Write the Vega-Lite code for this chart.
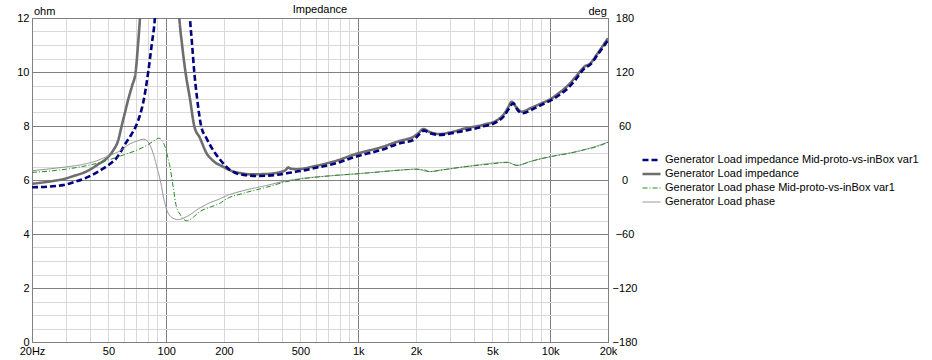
{
  "$schema": "https://vega.github.io/schema/vega-lite/v6.json",
  "width": 576,
  "height": 324,
  "autosize": {"type": "none"},
  "padding": {"left": 32, "top": 18, "right": 324, "bottom": 18},
  "background": "#ffffff",
  "config": {
    "font": "Liberation Sans",
    "view": {"stroke": "#808080", "strokeWidth": 1},
    "axis": {"labelFontSize": 11, "labelColor": "#000000", "titleFontSize": 11, "titleFontWeight": "normal", "titleColor": "#000000", "domainColor": "#808080", "ticks": false, "labelFlush": false, "labelOverlap": false}
  },
  "title": {"text": "Impedance", "fontSize": 11, "fontWeight": "normal", "color": "#000000", "anchor": "middle", "frame": "group", "offset": 0, "dy": 9.5},
  "datasets": {
    "imp": [
      {"s": "Generator Load impedance", "f": 20, "ohm": 5.86},
      {"s": "Generator Load impedance", "f": 25, "ohm": 5.95},
      {"s": "Generator Load impedance", "f": 29, "ohm": 6.03},
      {"s": "Generator Load impedance", "f": 33, "ohm": 6.15},
      {"s": "Generator Load impedance", "f": 38.5, "ohm": 6.32},
      {"s": "Generator Load impedance", "f": 44, "ohm": 6.57},
      {"s": "Generator Load impedance", "f": 49, "ohm": 6.8},
      {"s": "Generator Load impedance", "f": 53, "ohm": 7.1},
      {"s": "Generator Load impedance", "f": 56.3, "ohm": 7.48},
      {"s": "Generator Load impedance", "f": 58.6, "ohm": 8.0},
      {"s": "Generator Load impedance", "f": 61, "ohm": 8.5},
      {"s": "Generator Load impedance", "f": 63.5, "ohm": 9.0},
      {"s": "Generator Load impedance", "f": 66.5, "ohm": 9.5},
      {"s": "Generator Load impedance", "f": 69.3, "ohm": 10.0},
      {"s": "Generator Load impedance", "f": 71.3, "ohm": 11.0},
      {"s": "Generator Load impedance", "f": 73, "ohm": 12.0},
      {"s": "Generator Load impedance", "f": 93, "ohm": 40},
      {"s": "Generator Load impedance", "f": 117, "ohm": 12.0},
      {"s": "Generator Load impedance", "f": 121, "ohm": 11.0},
      {"s": "Generator Load impedance", "f": 126, "ohm": 10.0},
      {"s": "Generator Load impedance", "f": 133, "ohm": 9.0},
      {"s": "Generator Load impedance", "f": 140, "ohm": 8.0},
      {"s": "Generator Load impedance", "f": 150, "ohm": 7.55},
      {"s": "Generator Load impedance", "f": 162, "ohm": 7.0},
      {"s": "Generator Load impedance", "f": 175, "ohm": 6.72},
      {"s": "Generator Load impedance", "f": 198, "ohm": 6.49},
      {"s": "Generator Load impedance", "f": 224, "ohm": 6.31},
      {"s": "Generator Load impedance", "f": 247, "ohm": 6.25},
      {"s": "Generator Load impedance", "f": 270, "ohm": 6.21},
      {"s": "Generator Load impedance", "f": 328, "ohm": 6.22},
      {"s": "Generator Load impedance", "f": 400, "ohm": 6.31},
      {"s": "Generator Load impedance", "f": 420, "ohm": 6.38},
      {"s": "Generator Load impedance", "f": 432, "ohm": 6.47},
      {"s": "Generator Load impedance", "f": 445, "ohm": 6.42},
      {"s": "Generator Load impedance", "f": 478, "ohm": 6.40},
      {"s": "Generator Load impedance", "f": 600, "ohm": 6.52},
      {"s": "Generator Load impedance", "f": 741, "ohm": 6.68},
      {"s": "Generator Load impedance", "f": 1000, "ohm": 6.99},
      {"s": "Generator Load impedance", "f": 1300, "ohm": 7.2},
      {"s": "Generator Load impedance", "f": 1651, "ohm": 7.45},
      {"s": "Generator Load impedance", "f": 1937, "ohm": 7.6},
      {"s": "Generator Load impedance", "f": 2050, "ohm": 7.72},
      {"s": "Generator Load impedance", "f": 2183, "ohm": 7.89},
      {"s": "Generator Load impedance", "f": 2350, "ohm": 7.78},
      {"s": "Generator Load impedance", "f": 2660, "ohm": 7.70},
      {"s": "Generator Load impedance", "f": 3000, "ohm": 7.76},
      {"s": "Generator Load impedance", "f": 3610, "ohm": 7.91},
      {"s": "Generator Load impedance", "f": 4500, "ohm": 8.05},
      {"s": "Generator Load impedance", "f": 5300, "ohm": 8.22},
      {"s": "Generator Load impedance", "f": 5800, "ohm": 8.48},
      {"s": "Generator Load impedance", "f": 6050, "ohm": 8.7},
      {"s": "Generator Load impedance", "f": 6300, "ohm": 8.90},
      {"s": "Generator Load impedance", "f": 6650, "ohm": 8.7},
      {"s": "Generator Load impedance", "f": 7090, "ohm": 8.53},
      {"s": "Generator Load impedance", "f": 8000, "ohm": 8.68},
      {"s": "Generator Load impedance", "f": 9000, "ohm": 8.84},
      {"s": "Generator Load impedance", "f": 10000, "ohm": 8.99},
      {"s": "Generator Load impedance", "f": 11000, "ohm": 9.2},
      {"s": "Generator Load impedance", "f": 12200, "ohm": 9.46},
      {"s": "Generator Load impedance", "f": 13500, "ohm": 9.8},
      {"s": "Generator Load impedance", "f": 15100, "ohm": 10.20},
      {"s": "Generator Load impedance", "f": 16200, "ohm": 10.32},
      {"s": "Generator Load impedance", "f": 17500, "ohm": 10.65},
      {"s": "Generator Load impedance", "f": 20000, "ohm": 11.25},
      {"s": "Generator Load impedance Mid-proto-vs-inBox var1", "f": 20, "ohm": 5.73},
      {"s": "Generator Load impedance Mid-proto-vs-inBox var1", "f": 25, "ohm": 5.76},
      {"s": "Generator Load impedance Mid-proto-vs-inBox var1", "f": 29, "ohm": 5.81},
      {"s": "Generator Load impedance Mid-proto-vs-inBox var1", "f": 33, "ohm": 5.92},
      {"s": "Generator Load impedance Mid-proto-vs-inBox var1", "f": 37.7, "ohm": 6.06},
      {"s": "Generator Load impedance Mid-proto-vs-inBox var1", "f": 42, "ohm": 6.22},
      {"s": "Generator Load impedance Mid-proto-vs-inBox var1", "f": 47.1, "ohm": 6.43},
      {"s": "Generator Load impedance Mid-proto-vs-inBox var1", "f": 51, "ohm": 6.6},
      {"s": "Generator Load impedance Mid-proto-vs-inBox var1", "f": 54, "ohm": 6.74},
      {"s": "Generator Load impedance Mid-proto-vs-inBox var1", "f": 57.5, "ohm": 7.0},
      {"s": "Generator Load impedance Mid-proto-vs-inBox var1", "f": 60.7, "ohm": 7.3},
      {"s": "Generator Load impedance Mid-proto-vs-inBox var1", "f": 65, "ohm": 7.62},
      {"s": "Generator Load impedance Mid-proto-vs-inBox var1", "f": 69.6, "ohm": 8.0},
      {"s": "Generator Load impedance Mid-proto-vs-inBox var1", "f": 73, "ohm": 8.4},
      {"s": "Generator Load impedance Mid-proto-vs-inBox var1", "f": 75.8, "ohm": 8.85},
      {"s": "Generator Load impedance Mid-proto-vs-inBox var1", "f": 80.6, "ohm": 10.0},
      {"s": "Generator Load impedance Mid-proto-vs-inBox var1", "f": 84, "ohm": 11.0},
      {"s": "Generator Load impedance Mid-proto-vs-inBox var1", "f": 87.3, "ohm": 12.0},
      {"s": "Generator Load impedance Mid-proto-vs-inBox var1", "f": 108, "ohm": 40},
      {"s": "Generator Load impedance Mid-proto-vs-inBox var1", "f": 133, "ohm": 12.0},
      {"s": "Generator Load impedance Mid-proto-vs-inBox var1", "f": 136.5, "ohm": 11.0},
      {"s": "Generator Load impedance Mid-proto-vs-inBox var1", "f": 140, "ohm": 10.0},
      {"s": "Generator Load impedance Mid-proto-vs-inBox var1", "f": 145, "ohm": 9.0},
      {"s": "Generator Load impedance Mid-proto-vs-inBox var1", "f": 152, "ohm": 8.0},
      {"s": "Generator Load impedance Mid-proto-vs-inBox var1", "f": 162, "ohm": 7.55},
      {"s": "Generator Load impedance Mid-proto-vs-inBox var1", "f": 180, "ohm": 6.99},
      {"s": "Generator Load impedance Mid-proto-vs-inBox var1", "f": 191, "ohm": 6.75},
      {"s": "Generator Load impedance Mid-proto-vs-inBox var1", "f": 215, "ohm": 6.37},
      {"s": "Generator Load impedance Mid-proto-vs-inBox var1", "f": 230, "ohm": 6.26},
      {"s": "Generator Load impedance Mid-proto-vs-inBox var1", "f": 260, "ohm": 6.18},
      {"s": "Generator Load impedance Mid-proto-vs-inBox var1", "f": 296, "ohm": 6.15},
      {"s": "Generator Load impedance Mid-proto-vs-inBox var1", "f": 376, "ohm": 6.19},
      {"s": "Generator Load impedance Mid-proto-vs-inBox var1", "f": 450, "ohm": 6.28},
      {"s": "Generator Load impedance Mid-proto-vs-inBox var1", "f": 498, "ohm": 6.33},
      {"s": "Generator Load impedance Mid-proto-vs-inBox var1", "f": 600, "ohm": 6.45},
      {"s": "Generator Load impedance Mid-proto-vs-inBox var1", "f": 750, "ohm": 6.6},
      {"s": "Generator Load impedance Mid-proto-vs-inBox var1", "f": 1000, "ohm": 6.89},
      {"s": "Generator Load impedance Mid-proto-vs-inBox var1", "f": 1300, "ohm": 7.1},
      {"s": "Generator Load impedance Mid-proto-vs-inBox var1", "f": 1651, "ohm": 7.36},
      {"s": "Generator Load impedance Mid-proto-vs-inBox var1", "f": 1937, "ohm": 7.48},
      {"s": "Generator Load impedance Mid-proto-vs-inBox var1", "f": 2050, "ohm": 7.65},
      {"s": "Generator Load impedance Mid-proto-vs-inBox var1", "f": 2200, "ohm": 7.83},
      {"s": "Generator Load impedance Mid-proto-vs-inBox var1", "f": 2400, "ohm": 7.72},
      {"s": "Generator Load impedance Mid-proto-vs-inBox var1", "f": 2660, "ohm": 7.67},
      {"s": "Generator Load impedance Mid-proto-vs-inBox var1", "f": 3000, "ohm": 7.72},
      {"s": "Generator Load impedance Mid-proto-vs-inBox var1", "f": 3610, "ohm": 7.83},
      {"s": "Generator Load impedance Mid-proto-vs-inBox var1", "f": 4400, "ohm": 7.97},
      {"s": "Generator Load impedance Mid-proto-vs-inBox var1", "f": 5300, "ohm": 8.16},
      {"s": "Generator Load impedance Mid-proto-vs-inBox var1", "f": 5800, "ohm": 8.4},
      {"s": "Generator Load impedance Mid-proto-vs-inBox var1", "f": 6100, "ohm": 8.65},
      {"s": "Generator Load impedance Mid-proto-vs-inBox var1", "f": 6425, "ohm": 8.84},
      {"s": "Generator Load impedance Mid-proto-vs-inBox var1", "f": 6750, "ohm": 8.6},
      {"s": "Generator Load impedance Mid-proto-vs-inBox var1", "f": 7190, "ohm": 8.47},
      {"s": "Generator Load impedance Mid-proto-vs-inBox var1", "f": 8000, "ohm": 8.6},
      {"s": "Generator Load impedance Mid-proto-vs-inBox var1", "f": 9000, "ohm": 8.78},
      {"s": "Generator Load impedance Mid-proto-vs-inBox var1", "f": 10000, "ohm": 8.94},
      {"s": "Generator Load impedance Mid-proto-vs-inBox var1", "f": 11000, "ohm": 9.12},
      {"s": "Generator Load impedance Mid-proto-vs-inBox var1", "f": 12200, "ohm": 9.36},
      {"s": "Generator Load impedance Mid-proto-vs-inBox var1", "f": 13500, "ohm": 9.7},
      {"s": "Generator Load impedance Mid-proto-vs-inBox var1", "f": 15100, "ohm": 10.14},
      {"s": "Generator Load impedance Mid-proto-vs-inBox var1", "f": 16200, "ohm": 10.28},
      {"s": "Generator Load impedance Mid-proto-vs-inBox var1", "f": 17500, "ohm": 10.6},
      {"s": "Generator Load impedance Mid-proto-vs-inBox var1", "f": 20000, "ohm": 11.18}
    ],
    "ph": [
      {"s": "Generator Load phase", "f": 20, "deg": 10.3},
      {"s": "Generator Load phase", "f": 25, "deg": 12.5},
      {"s": "Generator Load phase", "f": 30, "deg": 14.5},
      {"s": "Generator Load phase", "f": 35.5, "deg": 16.7},
      {"s": "Generator Load phase", "f": 43.5, "deg": 21.4},
      {"s": "Generator Load phase", "f": 49, "deg": 25.9},
      {"s": "Generator Load phase", "f": 57, "deg": 32},
      {"s": "Generator Load phase", "f": 64.6, "deg": 40},
      {"s": "Generator Load phase", "f": 71, "deg": 43.5},
      {"s": "Generator Load phase", "f": 76, "deg": 45.3},
      {"s": "Generator Load phase", "f": 80, "deg": 43},
      {"s": "Generator Load phase", "f": 83, "deg": 37},
      {"s": "Generator Load phase", "f": 86, "deg": 28},
      {"s": "Generator Load phase", "f": 89.5, "deg": 14},
      {"s": "Generator Load phase", "f": 93.5, "deg": -2},
      {"s": "Generator Load phase", "f": 97, "deg": -20},
      {"s": "Generator Load phase", "f": 100.6, "deg": -33},
      {"s": "Generator Load phase", "f": 106.7, "deg": -41.4},
      {"s": "Generator Load phase", "f": 115, "deg": -44},
      {"s": "Generator Load phase", "f": 127.5, "deg": -40.8},
      {"s": "Generator Load phase", "f": 150, "deg": -31},
      {"s": "Generator Load phase", "f": 170, "deg": -25},
      {"s": "Generator Load phase", "f": 190, "deg": -21},
      {"s": "Generator Load phase", "f": 206, "deg": -17.5},
      {"s": "Generator Load phase", "f": 250, "deg": -12},
      {"s": "Generator Load phase", "f": 334, "deg": -6},
      {"s": "Generator Load phase", "f": 420, "deg": -1},
      {"s": "Generator Load phase", "f": 500, "deg": 1.5},
      {"s": "Generator Load phase", "f": 700, "deg": 4.5},
      {"s": "Generator Load phase", "f": 1000, "deg": 7},
      {"s": "Generator Load phase", "f": 1651, "deg": 11},
      {"s": "Generator Load phase", "f": 2000, "deg": 12},
      {"s": "Generator Load phase", "f": 2350, "deg": 9.3},
      {"s": "Generator Load phase", "f": 2700, "deg": 11},
      {"s": "Generator Load phase", "f": 3610, "deg": 14.8},
      {"s": "Generator Load phase", "f": 5980, "deg": 19.6},
      {"s": "Generator Load phase", "f": 6710, "deg": 16.3},
      {"s": "Generator Load phase", "f": 8000, "deg": 21},
      {"s": "Generator Load phase", "f": 10000, "deg": 25.9},
      {"s": "Generator Load phase", "f": 15300, "deg": 34},
      {"s": "Generator Load phase", "f": 20000, "deg": 42},
      {"s": "Generator Load phase Mid-proto-vs-inBox var1", "f": 20, "deg": 8.5},
      {"s": "Generator Load phase Mid-proto-vs-inBox var1", "f": 25, "deg": 10},
      {"s": "Generator Load phase Mid-proto-vs-inBox var1", "f": 30, "deg": 12},
      {"s": "Generator Load phase Mid-proto-vs-inBox var1", "f": 43.5, "deg": 18.5},
      {"s": "Generator Load phase Mid-proto-vs-inBox var1", "f": 59.9, "deg": 27.8},
      {"s": "Generator Load phase Mid-proto-vs-inBox var1", "f": 70, "deg": 33},
      {"s": "Generator Load phase Mid-proto-vs-inBox var1", "f": 80, "deg": 39},
      {"s": "Generator Load phase Mid-proto-vs-inBox var1", "f": 87, "deg": 44},
      {"s": "Generator Load phase Mid-proto-vs-inBox var1", "f": 91.5, "deg": 46.5},
      {"s": "Generator Load phase Mid-proto-vs-inBox var1", "f": 95, "deg": 44},
      {"s": "Generator Load phase Mid-proto-vs-inBox var1", "f": 98.6, "deg": 37},
      {"s": "Generator Load phase Mid-proto-vs-inBox var1", "f": 102, "deg": 25},
      {"s": "Generator Load phase Mid-proto-vs-inBox var1", "f": 104.6, "deg": 14.8},
      {"s": "Generator Load phase Mid-proto-vs-inBox var1", "f": 108.7, "deg": -7.5},
      {"s": "Generator Load phase Mid-proto-vs-inBox var1", "f": 113, "deg": -29.7},
      {"s": "Generator Load phase Mid-proto-vs-inBox var1", "f": 118, "deg": -38},
      {"s": "Generator Load phase Mid-proto-vs-inBox var1", "f": 122, "deg": -42.6},
      {"s": "Generator Load phase Mid-proto-vs-inBox var1", "f": 127.5, "deg": -45.3},
      {"s": "Generator Load phase Mid-proto-vs-inBox var1", "f": 135, "deg": -43},
      {"s": "Generator Load phase Mid-proto-vs-inBox var1", "f": 150, "deg": -35},
      {"s": "Generator Load phase Mid-proto-vs-inBox var1", "f": 170, "deg": -30},
      {"s": "Generator Load phase Mid-proto-vs-inBox var1", "f": 190, "deg": -26},
      {"s": "Generator Load phase Mid-proto-vs-inBox var1", "f": 206, "deg": -21},
      {"s": "Generator Load phase Mid-proto-vs-inBox var1", "f": 250, "deg": -15},
      {"s": "Generator Load phase Mid-proto-vs-inBox var1", "f": 334, "deg": -8},
      {"s": "Generator Load phase Mid-proto-vs-inBox var1", "f": 420, "deg": -2},
      {"s": "Generator Load phase Mid-proto-vs-inBox var1", "f": 500, "deg": 1},
      {"s": "Generator Load phase Mid-proto-vs-inBox var1", "f": 700, "deg": 4.5},
      {"s": "Generator Load phase Mid-proto-vs-inBox var1", "f": 1000, "deg": 7},
      {"s": "Generator Load phase Mid-proto-vs-inBox var1", "f": 1300, "deg": 9},
      {"s": "Generator Load phase Mid-proto-vs-inBox var1", "f": 1651, "deg": 11},
      {"s": "Generator Load phase Mid-proto-vs-inBox var1", "f": 2000, "deg": 12},
      {"s": "Generator Load phase Mid-proto-vs-inBox var1", "f": 2200, "deg": 11.5},
      {"s": "Generator Load phase Mid-proto-vs-inBox var1", "f": 2350, "deg": 9.3},
      {"s": "Generator Load phase Mid-proto-vs-inBox var1", "f": 2700, "deg": 11},
      {"s": "Generator Load phase Mid-proto-vs-inBox var1", "f": 3610, "deg": 14.8},
      {"s": "Generator Load phase Mid-proto-vs-inBox var1", "f": 4800, "deg": 17.5},
      {"s": "Generator Load phase Mid-proto-vs-inBox var1", "f": 5980, "deg": 19.6},
      {"s": "Generator Load phase Mid-proto-vs-inBox var1", "f": 6710, "deg": 16.3},
      {"s": "Generator Load phase Mid-proto-vs-inBox var1", "f": 8000, "deg": 21},
      {"s": "Generator Load phase Mid-proto-vs-inBox var1", "f": 10000, "deg": 25.9},
      {"s": "Generator Load phase Mid-proto-vs-inBox var1", "f": 12500, "deg": 29.5},
      {"s": "Generator Load phase Mid-proto-vs-inBox var1", "f": 15300, "deg": 34},
      {"s": "Generator Load phase Mid-proto-vs-inBox var1", "f": 17500, "deg": 37},
      {"s": "Generator Load phase Mid-proto-vs-inBox var1", "f": 20000, "deg": 42}
    ]
  },
  "encoding": {
    "x": {
      "field": "f", "type": "quantitative",
      "scale": {"type": "log", "domain": [20, 20000], "nice": false},
      "axis": {
        "title": null,
        "values": [20, 30, 40, 50, 60, 70, 80, 90, 100, 200, 300, 400, 500, 600, 700, 800, 900, 1000, 2000, 3000, 4000, 5000, 6000, 7000, 8000, 9000, 10000, 20000],
        "labelExpr": "indexof([20,50,100,200,500,1000,2000,5000,10000,20000], datum.value) < 0 ? '' : (datum.value == 20 ? '20Hz' : (datum.value >= 1000 ? (datum.value / 1000) + 'k' : '' + datum.value))",
        "labelPadding": 3,
        "gridColor": {"condition": {"test": "datum.value == 20 || datum.value == 100 || datum.value == 1000 || datum.value == 10000 || datum.value == 20000", "value": "#808080"}, "value": "#d9d9d9"}
      }
    },
    "color": {
      "field": "s", "type": "nominal",
      "scale": {
        "domain": ["Generator Load impedance Mid-proto-vs-inBox var1", "Generator Load impedance", "Generator Load phase Mid-proto-vs-inBox var1", "Generator Load phase"],
        "range": ["#000080", "#6e6e6e", "#228b22", "#8c8c8c"]
      },
      "legend": {"title": null, "orient": "none", "legendX": 609, "legendY": 135, "symbolType": "stroke", "symbolSize": 324, "labelFontSize": 11, "labelColor": "#000000", "labelOffset": 3, "rowPadding": 0, "clipHeight": 14, "padding": 0, "labelLimit": 400}
    },
    "strokeDash": {
      "field": "s", "type": "nominal",
      "scale": {
        "domain": ["Generator Load impedance Mid-proto-vs-inBox var1", "Generator Load impedance", "Generator Load phase Mid-proto-vs-inBox var1", "Generator Load phase"],
        "range": [[6, 3], [1, 0], [5, 2, 1, 2], [1, 0]]
      },
      "legend": {"title": null, "orient": "none", "legendX": 609, "legendY": 135, "symbolType": "stroke", "symbolSize": 324, "labelFontSize": 11, "labelColor": "#000000", "labelOffset": 3, "rowPadding": 0, "clipHeight": 14, "padding": 0, "labelLimit": 400}
    },
    "strokeWidth": {
      "field": "s", "type": "nominal",
      "scale": {
        "type": "ordinal",
        "domain": ["Generator Load impedance Mid-proto-vs-inBox var1", "Generator Load impedance", "Generator Load phase Mid-proto-vs-inBox var1", "Generator Load phase"],
        "range": [2.6, 2.6, 1, 1]
      },
      "legend": {"title": null, "orient": "none", "legendX": 609, "legendY": 135, "symbolType": "stroke", "symbolSize": 324, "labelFontSize": 11, "labelColor": "#000000", "labelOffset": 3, "rowPadding": 0, "clipHeight": 14, "padding": 0, "labelLimit": 400}
    }
  },
  "layer": [
    {
      "data": {"name": "imp"},
      "encoding": {
        "y": {
          "field": "ohm", "type": "quantitative",
          "scale": {"domain": [0, 12], "nice": false, "zero": false},
          "axis": {
            "orient": "left",
            "values": [0, 0.5, 1, 1.5, 2, 2.5, 3, 3.5, 4, 4.5, 5, 5.5, 6, 6.5, 7, 7.5, 8, 8.5, 9, 9.5, 10, 10.5, 11, 11.5, 12],
            "labelExpr": "datum.value % 2 == 0 ? format(datum.value, 'd') : ''",
            "labelPadding": 3,
            "gridColor": {"condition": {"test": "datum.value % 2 == 0", "value": "#808080"}, "value": "#d9d9d9"},
            "title": "ohm", "titleAngle": 0, "titleAlign": "left", "titleBaseline": "alphabetic", "titleX": 1.5, "titleY": -3.5
          }
        }
      },
      "layer": [
        {"transform": [{"filter": "datum.s == 'Generator Load impedance'"}], "mark": {"type": "line", "interpolate": "monotone", "clip": true}},
        {"transform": [{"filter": "datum.s == 'Generator Load impedance Mid-proto-vs-inBox var1'"}], "mark": {"type": "line", "interpolate": "monotone", "clip": true}}
      ]
    },
    {
      "data": {"name": "ph"},
      "encoding": {
        "y": {
          "field": "deg", "type": "quantitative",
          "scale": {"domain": [-180, 180], "nice": false, "zero": false},
          "axis": {
            "orient": "right",
            "values": [-180, -120, -60, 0, 60, 120, 180],
            "grid": false,
            "labelAlign": "center",
            "labelPadding": 16.5,
            "title": "deg", "titleAngle": 0, "titleAlign": "left", "titleBaseline": "alphabetic", "titleX": -20, "titleY": -3.5
          }
        }
      },
      "layer": [
        {"transform": [{"filter": "datum.s == 'Generator Load phase'"}], "mark": {"type": "line", "interpolate": "monotone", "clip": true}},
        {"transform": [{"filter": "datum.s == 'Generator Load phase Mid-proto-vs-inBox var1'"}], "mark": {"type": "line", "interpolate": "monotone", "clip": true}}
      ]
    }
  ],
  "resolve": {"scale": {"y": "independent"}}
}
